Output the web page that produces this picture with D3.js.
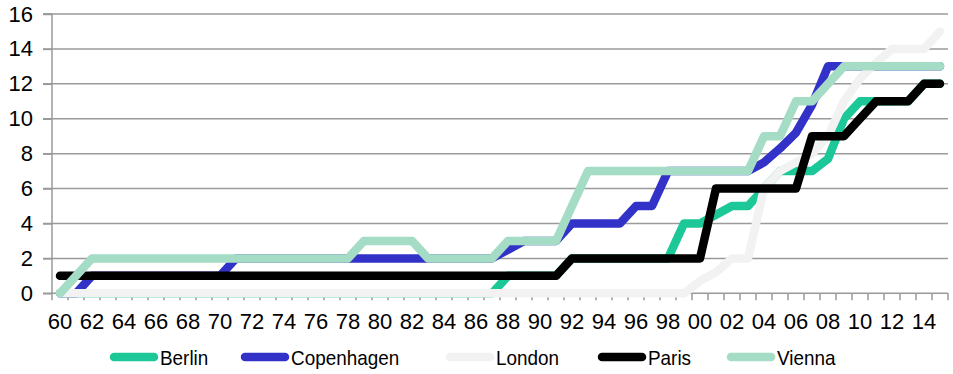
<!DOCTYPE html>
<html><head><meta charset="utf-8">
<script src="https://cdn.jsdelivr.net/npm/d3@7"></script>
<style>
html,body{margin:0;padding:0;background:#fff;}
svg{display:block;font-family:"Liberation Sans",Arial,sans-serif;}
</style></head>
<body><svg id="chart" width="953" height="374"></svg>
<script>
const years = [1960,1961,1962,1963,1964,1965,1966,1967,1968,1969,
  1970,1971,1972,1973,1974,1975,1976,1977,1978,1979,
  1980,1981,1982,1983,1984,1985,1986,1987,1988,1989,
  1990,1991,1992,1993,1994,1995,1996,1997,1998,1999,
  2000,2001,2002,2003,2004,2005,2006,2007,2008,2009,
  2010,2011,2012,2013,2014,2015];
const xTickLabels = ["60","62","64","66","68","70","72","74","76","78","80","82","84","86","88","90","92","94","96","98","00","02","04","06","08","10","12","14"];
const yTicks = [0,2,4,6,8,10,12,14,16];
const seriesNames = ["Berlin","Copenhagen","London","Paris","Vienna"];
const berlin = [0,0,0,0,0,0,0,0,0,0, 0,0,0,0,0,0,0,0,0,0, 0,0,0,0,0,0,0,0,1,1,
  1,1,2,2,2,2,2,2,2,4, 4,4.5,5,5,6,7,7,7,7.7,10, 11,11,11,11,12,12];
const copenhagen = [0,0,1,1,1,1,1,1,1,1, 1,2,2,2,2,2,2,2,2,2, 2,2,2,2,2,2,2,2,2.5,3,
  3,3,4,4,4,4,5,5,7,7, 7,7,7,7,7.5,8.3,9.2,10.8,13,13, 13,13,13,13,13,13];
const london = [0,0,0,0,0,0,0,0,0,0, 0,0,0,0,0,0,0,0,0,0, 0,0,0,0,0,0,0,0,0,0,
  0,0,0,0,0,0,0,0,0,0, 0.7,1.2,2,2,6,7,7.5,8,9,11, 12.3,13.2,14,14,14,15];
const paris = [1,1,1,1,1,1,1,1,1,1, 1,1,1,1,1,1,1,1,1,1, 1,1,1,1,1,1,1,1,1,1,
  1,1,2,2,2,2,2,2,2,2, 2,6,6,6,6,6,6,9,9,9, 10,11,11,11,12,12];
const vienna = [0,1,2,2,2,2,2,2,2,2, 2,2,2,2,2,2,2,2,2,3, 3,3,3,2,2,2,2,2,3,3,
  3,3,5,7,7,7,7,7,7,7, 7,7,7,7,9,9,11,11,12,13, 13,13,13,13,13,13];
const colors = ["#1cc898","#3232c8","#f2f2f2","#000000","#a4dcc5"];

const series = [berlin, copenhagen, london, paris, vienna].map((v,i)=>({name:seriesNames[i], values:v, color:colors[i]}));

const svg = d3.select("#chart");
const pLeft = 52, pRight = 948, pTop = 14, pBottom = 293.3;
const x = d3.scaleBand().domain(years).range([pLeft,pRight]).padding(0);
const y = d3.scaleLinear().domain([0,16]).range([pBottom,pTop]);
const bw = x.bandwidth();
const cx = yr => x(yr) + bw/2;
const gridColor = "#9a9a9a";
const fontFam = "Liberation Sans, Arial, sans-serif";

// gridlines
svg.append("g").selectAll("line").data(yTicks.filter(t=>t>0)).join("line")
  .attr("x1", pLeft-9).attr("x2", pRight).attr("y1", d=>y(d)).attr("y2", d=>y(d))
  .attr("stroke", gridColor).attr("stroke-width", 1.5);

// y axis
const yAxis = svg.append("g").attr("transform",`translate(${pLeft},0)`)
  .call(d3.axisLeft(y).tickValues(yTicks).tickSize(9).tickPadding(10).tickFormat(d3.format("d")));
yAxis.select(".domain").attr("stroke", gridColor).attr("stroke-width",1.5).attr("d",`M-9,${pTop}H0V${pBottom}`);
yAxis.selectAll(".tick line").attr("stroke", gridColor).attr("stroke-width",1.5);
yAxis.selectAll(".tick text").attr("font-size",22).attr("fill","#000").attr("font-family",fontFam);

// x axis line + ticks at band boundaries
svg.append("line").attr("x1",pLeft-9).attr("x2",pRight).attr("y1",pBottom).attr("y2",pBottom)
  .attr("stroke",gridColor).attr("stroke-width",1.5);
svg.append("g").selectAll("line").data(years.concat([null])).join("line")
  .attr("x1",(d,i)=> pLeft + i*bw).attr("x2",(d,i)=> pLeft + i*bw)
  .attr("y1",pBottom).attr("y2",pBottom+7)
  .attr("stroke",gridColor).attr("stroke-width",1.5);

const xAxis = svg.append("g").attr("transform",`translate(0,${pBottom})`)
  .call(d3.axisBottom(x).tickValues(years.filter((d,i)=>i%2===0)).tickSize(0).tickPadding(20)
    .tickFormat((d,i)=>xTickLabels[i]));
xAxis.select(".domain").remove();
xAxis.selectAll(".tick text").attr("font-size",22).attr("fill","#000").attr("font-family",fontFam);

// lines
const line = d3.line().x((d,i)=>cx(years[i])).y(d=>y(d));
svg.append("g").selectAll("path").data(series).join("path")
  .attr("d", d=>line(d.values))
  .attr("fill","none").attr("stroke",d=>d.color).attr("stroke-width",8.5)
  .attr("stroke-linecap","round").attr("stroke-linejoin","round");

// legend
const legendX = [110, 241, 446, 598, 727];
const lg = svg.append("g").selectAll("g").data(series).join("g")
  .attr("transform",(d,i)=>`translate(${legendX[i]},357)`);
lg.append("line").attr("x1",4).attr("x2",44).attr("y1",0).attr("y2",0)
  .attr("stroke",d=>d.color).attr("stroke-width",8.5).attr("stroke-linecap","round");
lg.append("text").attr("transform","translate(50,7.5) scale(0.9,1)").attr("font-size",21).attr("fill","#000")
  .attr("font-family",fontFam).text(d=>d.name);
</script></body></html>
